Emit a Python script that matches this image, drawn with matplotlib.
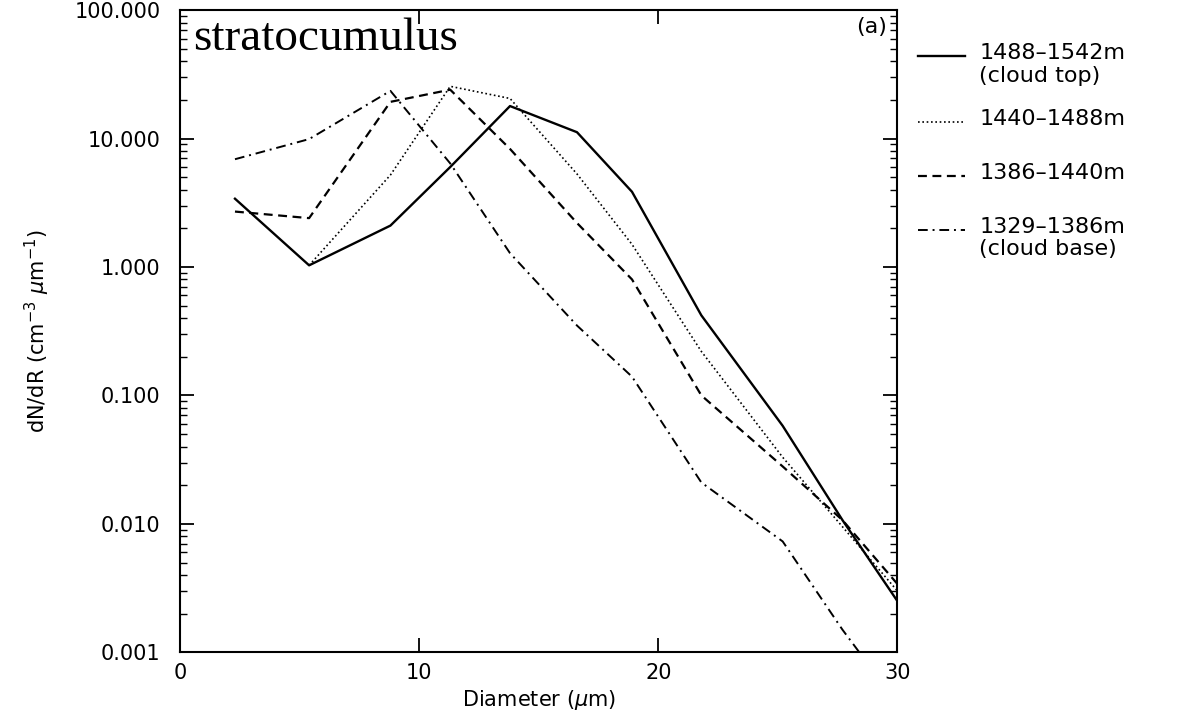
# plot.py
# droplet size spectra, stratocumulus case (a)

import numpy as np
import matplotlib.pyplot as plt
from matplotlib.lines import Line2D
from matplotlib.ticker import FixedLocator, LogLocator, NullFormatter

diameter = [2.3, 5.4, 8.8, 11.3, 13.8, 16.6, 18.9, 21.8, 25.2, 27.7, 30.0]

top_1488_1542 = [3.4, 1.03, 2.1, 6.0, 17.9, 11.2, 3.85, 0.42, 0.058, 0.0107, 0.0025]
mid_1440_1488 = [np.nan, 1.03, 5.2, 25.5, 20.5, 5.3, 1.5, 0.22, 0.033, 0.0095, 0.003]
mid_1386_1440 = [2.7, 2.4, 19.3, 24.0, 8.3, 2.2, 0.8, 0.1, 0.028, 0.0107, 0.0034]
base_1329_1386 = [6.9, 9.9, 23.5, 6.4, 1.28, 0.35, 0.14, 0.021, 0.0073, 0.0015, 0.0004]

labels = ["1488\u20131542m", "1440\u20131488m", "1386\u20131440m", "1329\u20131386m"]
sublabels = ["(cloud top)", "", "", "(cloud base)"]
styles = ["-", (0, (1, 1.6)), (0, (4, 2.5)), (0, (5, 2.5, 1, 2.5))]
widths = [1.7, 1.2, 1.6, 1.4]

plt.rcParams['font.family'] = ['DejaVu Sans']

fig = plt.figure(figsize=(11.84, 7.2), dpi=100)
ax = fig.add_axes([0.152, 0.094, 0.606, 0.892])

series = [top_1488_1542, mid_1440_1488, mid_1386_1440, base_1329_1386]
for vals, ls, lw in zip(series, styles, widths):
    ax.plot(diameter, vals, color="black", linestyle=ls, linewidth=lw)

ax.set_yscale("log")
ax.set_xlim(0, 30)
ax.set_ylim(0.001, 100)

ax.xaxis.set_major_locator(FixedLocator([0, 10, 20, 30]))
ax.yaxis.set_major_locator(FixedLocator([0.001, 0.01, 0.1, 1, 10, 100]))
ax.yaxis.set_minor_locator(LogLocator(base=10, subs=np.arange(2, 10), numticks=20))
ax.yaxis.set_minor_formatter(NullFormatter())
ax.set_yticklabels(["0.001", "0.010", "0.100", "1.000", "10.000", "100.000"])
ax.set_xticklabels(["0", "10", "20", "30"])

ax.tick_params(axis="both", which="major", direction="in", length=10, width=1.3,
               top=True, right=True, labelsize=15)
ax.tick_params(axis="y", which="major", pad=14)
ax.tick_params(axis="x", which="major", pad=8)
ax.tick_params(axis="y", which="minor", direction="in", length=5, width=1.0,
               right=True)
for s in ax.spines.values():
    s.set_linewidth(1.5)

ax.set_xlabel("Diameter ($\\mu$m)", fontsize=15, labelpad=3)
ax.set_ylabel("dN/dR (cm$^{-3}$ $\\mu$m$^{-1}$)", fontsize=15, labelpad=16)

ax.text(0.018, 0.988, "stratocumulus", transform=ax.transAxes, ha="left", va="top",
        fontsize=34, family="Liberation Serif")
ax.text(0.985, 0.99, "(a)", transform=ax.transAxes, ha="right", va="top", fontsize=16)

# legend drawn by hand to the right of the axes
leg_y = [0.922, 0.831, 0.756, 0.681]
for lab, sub, ls, lw, y in zip(labels, sublabels, styles, widths, leg_y):
    fig.add_artist(Line2D([0.775, 0.815], [y, y], color="black", linestyle=ls,
                          linewidth=lw))
    fig.text(0.827, y + 0.004, lab, ha="left", va="center", fontsize=16)
    if sub:
        fig.text(0.827, y - 0.027, sub, ha="left", va="center", fontsize=16)

fig.savefig("out.png", dpi=100)
